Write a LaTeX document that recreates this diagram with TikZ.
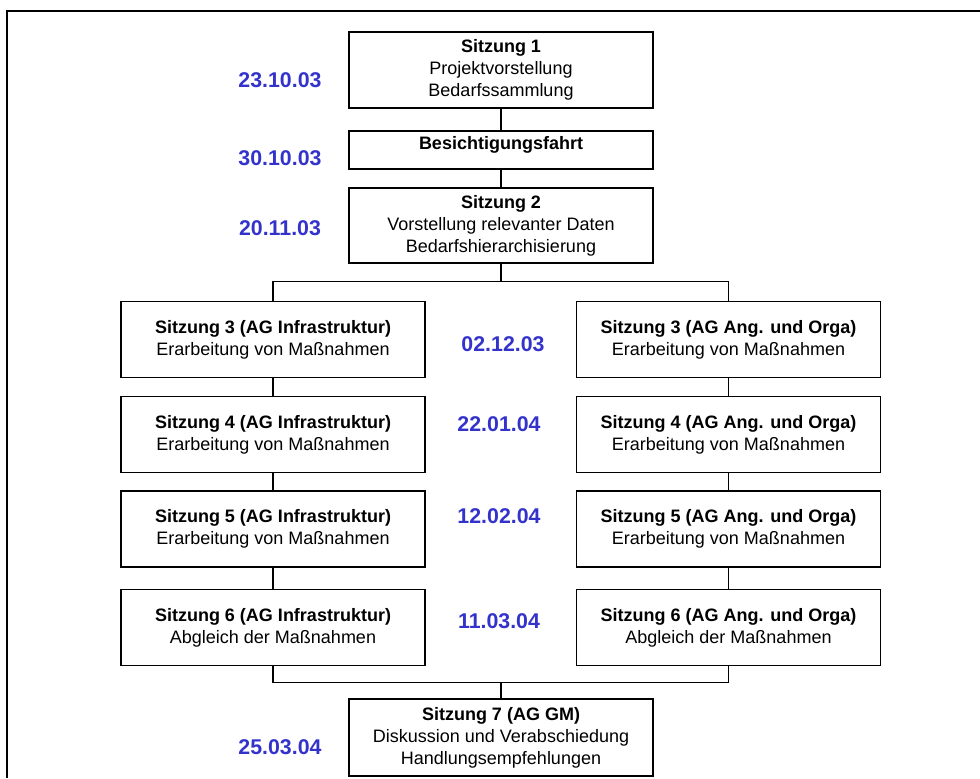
\documentclass[tikz,border=0pt]{standalone}
\usepackage{fontspec}
\setmainfont{Liberation Sans}
\usetikzlibrary{positioning}
\definecolor{datblue}{RGB}{51,51,204}

\begin{document}
\begin{tikzpicture}[
x=0.75pt,y=-0.75pt,
box/.style={draw,line width=0.9pt,align=center,inner sep=2pt,minimum width=228pt,minimum height=57pt,font=\fontsize{13.5}{16.5}\selectfont},
datum/.style={text=datblue,inner sep=1pt,font=\fontsize{16}{19}\selectfont\bfseries},
link/.style={line width=0.9pt}
]
\useasboundingbox (0,0) rectangle (980,778);
\draw[line width=0.9pt] (980,11) -- (7,11) -- (7,778);

\node[box] (s1) at (501,70) {\textbf{Sitzung 1}\\Projektvorstellung\\Bedarfssammlung};
\node[box,minimum height=28.5pt,inner ysep=0pt,text height=13.6pt,text depth=14.9pt] (fahrt) at (501,150) {\textbf{Besichtigungsfahrt}};
\node[box,minimum height=56.25pt] (s2) at (501,225.5) {\textbf{Sitzung 2}\\Vorstellung relevanter Daten\\Bedarfshierarchisierung};

\node[box] (i3) at (273,339.5) {\textbf{Sitzung 3 (AG Infrastruktur)}\\Erarbeitung von Maßnahmen};
\node[box] (i4) at (273,434.5) {\textbf{Sitzung 4 (AG Infrastruktur)}\\Erarbeitung von Maßnahmen};
\node[box] (i5) at (273,529) {\textbf{Sitzung 5 (AG Infrastruktur)}\\Erarbeitung von Maßnahmen};
\node[box] (i6) at (273,627.5) {\textbf{Sitzung 6 (AG Infrastruktur)}\\Abgleich der Maßnahmen};

\node[box] (o3) at (728.5,339.5) {\textbf{Sitzung 3 (AG Ang. und Orga)}\\Erarbeitung von Maßnahmen};
\node[box] (o4) at (728.5,434.5) {\textbf{Sitzung 4 (AG Ang. und Orga)}\\Erarbeitung von Maßnahmen};
\node[box] (o5) at (728.5,529) {\textbf{Sitzung 5 (AG Ang. und Orga)}\\Erarbeitung von Maßnahmen};
\node[box] (o6) at (728.5,627.5) {\textbf{Sitzung 6 (AG Ang. und Orga)}\\Abgleich der Maßnahmen};

\node[box,minimum height=57.75pt] (s7) at (501,737.5) {\textbf{Sitzung 7 (AG GM)}\\Diskussion und Verabschiedung\\Handlungsempfehlungen};

\node[datum] (d1) at (280,80) {23.10.03};
\node[datum] (d2) at (280,158) {30.10.03};
\node[datum] (d3) at (280,228) {20.11.03};
\node[datum] (d4) at (503,344) {02.12.03};
\node[datum] (d5) at (499,424) {22.01.04};
\node[datum] (d6) at (499,516) {12.02.04};
\node[datum] (d7) at (499,621) {11.03.04};
\node[datum] (d8) at (280,747) {25.03.04};

\coordinate[below=13.5pt of s2.south] (split);
\coordinate[below=12pt of i6.south] (merge);

\draw[link] (s1) -- (fahrt);
\draw[link] (fahrt) -- (s2);
\draw[link] (s2.south) -- (split);
\draw[link] (i3.north) |- (split) -| (o3.north);
\draw[link] (i3) -- (i4);
\draw[link] (i4) -- (i5);
\draw[link] (i5) -- (i6);
\draw[link] (o3) -- (o4);
\draw[link] (o4) -- (o5);
\draw[link] (o5) -- (o6);
\draw[link] (i6.south) |- (merge -| s7.north) -| (o6.south);
\draw[link] (merge -| s7.north) -- (s7.north);
\end{tikzpicture}
\end{document}
